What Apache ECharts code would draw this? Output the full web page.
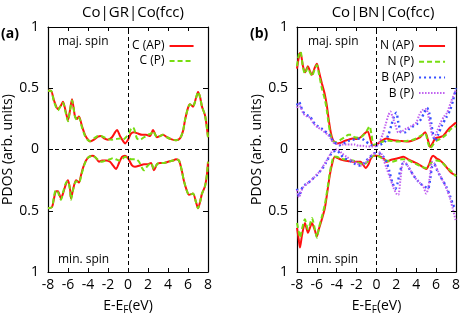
<!DOCTYPE html>
<html><head><meta charset="utf-8">
<script src="https://cdn.jsdelivr.net/npm/echarts@6/dist/echarts.min.js"></script>
<style>html,body{margin:0;padding:0;background:#fff}#c{width:463px;height:320px}</style>
</head><body><div id="c"></div>
<script>
// ---------- Data: [energy (eV), PDOS] ----------
const xTicks = [-8, -6, -4, -2, 0, 2, 4, 6, 8];
const yTicks = [1, 0.5, 0, 0.5, 1];
const panelTitles = ['Co|GR|Co(fcc)', 'Co|BN|Co(fcc)'];
const legendA = ['C (AP)', 'C (P)'];
const legendB = ['N (AP)', 'N (P)', 'B (AP)', 'B (P)'];

// panel (a) majority spin
const cAP_maj = [[-8,0.48],[-7.7,0.48],[-7.4,0.40],[-7.0,0.33],[-6.7,0.36],[-6.5,0.39],[-6.2,0.30],[-6.0,0.24],[-5.8,0.32],[-5.6,0.41],[-5.3,0.27],[-5.1,0.25],[-4.9,0.27],[-4.6,0.19],[-4.3,0.12],[-4.0,0.08],[-3.8,0.065],[-3.4,0.08],[-3.0,0.105],[-2.7,0.11],[-2.4,0.09],[-2.0,0.08],[-1.6,0.10],[-1.3,0.14],[-1.1,0.16],[-0.8,0.11],[-0.5,0.07],[-0.3,0.05],[0,0.08],[0.3,0.13],[0.6,0.14],[1.0,0.13],[1.4,0.12],[1.8,0.12],[2.2,0.11],[2.5,0.16],[2.9,0.10],[3.2,0.11],[3.5,0.12],[3.9,0.10],[4.3,0.085],[4.8,0.075],[5.2,0.09],[5.5,0.15],[5.7,0.24],[6.0,0.34],[6.2,0.37],[6.5,0.35],[6.8,0.42],[7.0,0.47],[7.2,0.43],[7.4,0.35],[7.7,0.28],[7.9,0.17],[8,0.1]];
const cP_maj = [[-8,0.48],[-7.7,0.48],[-7.4,0.39],[-7.0,0.32],[-6.7,0.36],[-6.5,0.38],[-6.2,0.29],[-6.0,0.23],[-5.8,0.32],[-5.6,0.40],[-5.3,0.27],[-5.1,0.24],[-4.9,0.26],[-4.6,0.18],[-4.3,0.11],[-4.0,0.075],[-3.8,0.07],[-3.4,0.09],[-3.0,0.11],[-2.7,0.11],[-2.4,0.10],[-2.0,0.085],[-1.6,0.08],[-1.2,0.085],[-0.8,0.09],[-0.5,0.08],[-0.2,0.10],[0.1,0.13],[0.4,0.18],[0.6,0.17],[0.9,0.09],[1.2,0.08],[1.6,0.10],[2.0,0.12],[2.3,0.13],[2.5,0.15],[2.9,0.10],[3.2,0.11],[3.5,0.12],[3.9,0.10],[4.3,0.085],[4.8,0.075],[5.2,0.09],[5.5,0.15],[5.7,0.24],[6.0,0.34],[6.2,0.37],[6.5,0.35],[6.8,0.42],[7.0,0.47],[7.2,0.43],[7.4,0.35],[7.7,0.28],[7.9,0.17],[8,0.1]];
// panel (a) minority spin (plotted downward)
const cAP_min = [[-8,0.48],[-7.6,0.47],[-7.4,0.40],[-7.2,0.34],[-7.0,0.34],[-6.7,0.40],[-6.5,0.36],[-6.2,0.28],[-6.0,0.25],[-5.8,0.32],[-5.7,0.40],[-5.5,0.33],[-5.2,0.25],[-4.9,0.27],[-4.7,0.21],[-4.5,0.15],[-4.2,0.09],[-3.9,0.06],[-3.5,0.05],[-3.2,0.07],[-2.9,0.10],[-2.6,0.09],[-2.2,0.09],[-1.8,0.10],[-1.5,0.13],[-1.2,0.16],[-0.9,0.11],[-0.6,0.06],[-0.3,0.05],[0,0.07],[0.4,0.13],[0.7,0.14],[1.2,0.13],[1.6,0.12],[2.0,0.12],[2.3,0.11],[2.6,0.17],[2.9,0.12],[3.2,0.11],[3.6,0.11],[4.0,0.10],[4.5,0.09],[4.8,0.08],[5.1,0.09],[5.4,0.18],[5.6,0.26],[5.9,0.34],[6.1,0.37],[6.5,0.36],[6.8,0.43],[7.0,0.48],[7.2,0.43],[7.4,0.36],[7.7,0.30],[7.9,0.2],[8,0.1]];
const cP_min = [[-8,0.48],[-7.6,0.47],[-7.4,0.38],[-7.2,0.33],[-7.0,0.35],[-6.7,0.41],[-6.5,0.35],[-6.2,0.27],[-6.0,0.26],[-5.8,0.33],[-5.7,0.41],[-5.5,0.33],[-5.2,0.26],[-4.9,0.27],[-4.7,0.22],[-4.5,0.16],[-4.2,0.09],[-3.9,0.06],[-3.5,0.05],[-3.2,0.07],[-2.9,0.09],[-2.6,0.10],[-2.2,0.09],[-1.8,0.08],[-1.5,0.07],[-1.2,0.08],[-0.9,0.09],[-0.6,0.08],[-0.3,0.06],[0,0.07],[0.4,0.08],[0.8,0.08],[1.1,0.10],[1.4,0.15],[1.6,0.17],[1.8,0.15],[2.0,0.13],[2.3,0.11],[2.6,0.16],[2.9,0.12],[3.2,0.11],[3.6,0.11],[4.0,0.10],[4.5,0.09],[4.8,0.08],[5.1,0.09],[5.4,0.18],[5.6,0.26],[5.9,0.34],[6.1,0.37],[6.5,0.36],[6.8,0.43],[7.0,0.48],[7.2,0.43],[7.4,0.36],[7.7,0.30],[7.9,0.2],[8,0.1]];

// panel (b) majority spin
const nAP_maj = [[-8,0.66],[-7.8,0.76],[-7.65,0.79],[-7.4,0.68],[-7.2,0.63],[-6.9,0.68],[-6.7,0.64],[-6.5,0.61],[-6.2,0.67],[-6.0,0.70],[-5.8,0.64],[-5.5,0.54],[-5.2,0.45],[-5.0,0.36],[-4.8,0.24],[-4.6,0.14],[-4.4,0.08],[-4.2,0.06],[-4.0,0.05],[-3.6,0.055],[-3.2,0.07],[-2.8,0.08],[-2.4,0.09],[-2.0,0.085],[-1.6,0.10],[-1.2,0.13],[-0.9,0.15],[-0.6,0.08],[-0.4,0.035],[0,0.04],[0.5,0.07],[1.0,0.09],[1.4,0.08],[1.7,0.075],[2.3,0.07],[3.0,0.065],[3.5,0.07],[4.0,0.085],[4.4,0.10],[4.9,0.14],[5.2,0.07],[5.4,0.02],[5.7,0.06],[5.9,0.09],[6.3,0.10],[6.7,0.11],[7.0,0.14],[7.4,0.18],[7.7,0.20],[8,0.22]];
const nP_maj = [[-8,0.68],[-7.8,0.78],[-7.65,0.80],[-7.4,0.67],[-7.2,0.62],[-6.9,0.67],[-6.7,0.63],[-6.5,0.60],[-6.2,0.66],[-6.0,0.69],[-5.8,0.62],[-5.5,0.50],[-5.2,0.41],[-5.0,0.32],[-4.8,0.20],[-4.6,0.11],[-4.4,0.07],[-4.2,0.06],[-4.0,0.06],[-3.6,0.08],[-3.2,0.10],[-2.8,0.12],[-2.5,0.12],[-2.2,0.10],[-1.8,0.095],[-1.4,0.11],[-1.0,0.15],[-0.7,0.19],[-0.5,0.12],[-0.3,0.04],[0,0.04],[0.5,0.06],[1.0,0.075],[1.5,0.07],[2.0,0.065],[2.5,0.065],[3.0,0.07],[3.5,0.075],[4.0,0.09],[4.4,0.11],[4.9,0.13],[5.2,0.05],[5.4,0.01],[5.7,0.04],[6.0,0.07],[6.5,0.09],[7.0,0.12],[7.4,0.16],[7.7,0.18],[8,0.19]];
const bAP_maj = [[-8,0.36],[-7.8,0.39],[-7.6,0.35],[-7.4,0.31],[-7.2,0.29],[-7.0,0.28],[-6.7,0.27],[-6.4,0.23],[-6.2,0.21],[-5.9,0.19],[-5.5,0.17],[-5.2,0.15],[-4.9,0.13],[-4.6,0.10],[-4.4,0.07],[-4.0,0.045],[-3.7,0.035],[-3.3,0.05],[-3.0,0.06],[-2.7,0.075],[-2.4,0.08],[-2.0,0.085],[-1.6,0.09],[-1.3,0.08],[-1.1,0.065],[-0.8,0.05],[-0.5,0.035],[0,0.03],[0.4,0.04],[0.8,0.06],[1.2,0.12],[1.5,0.2],[1.8,0.28],[2.0,0.30],[2.2,0.22],[2.5,0.14],[2.9,0.14],[3.3,0.17],[3.7,0.19],[4.1,0.21],[4.5,0.25],[4.8,0.30],[5.1,0.34],[5.3,0.30],[5.5,0.22],[5.7,0.12],[5.9,0.07],[6.2,0.12],[6.6,0.2],[7.0,0.26],[7.4,0.32],[7.7,0.40],[8,0.50]];
const bP_maj = [[-8,0.34],[-7.8,0.37],[-7.6,0.34],[-7.4,0.30],[-7.2,0.28],[-7.0,0.27],[-6.7,0.26],[-6.4,0.22],[-6.2,0.20],[-5.9,0.18],[-5.5,0.16],[-5.2,0.14],[-4.9,0.12],[-4.6,0.09],[-4.4,0.06],[-4.0,0.045],[-3.7,0.04],[-3.3,0.04],[-3.0,0.04],[-2.6,0.04],[-2.2,0.04],[-1.8,0.03],[-1.4,0.03],[-1.0,0.025],[-0.5,0.025],[0,0.03],[0.3,0.06],[0.6,0.12],[0.9,0.20],[1.2,0.28],[1.4,0.31],[1.6,0.27],[1.9,0.20],[2.2,0.14],[2.6,0.15],[3.0,0.17],[3.5,0.19],[4.0,0.22],[4.3,0.28],[4.6,0.32],[5.0,0.33],[5.2,0.28],[5.4,0.20],[5.6,0.12],[5.8,0.10],[6.1,0.15],[6.4,0.21],[6.8,0.27],[7.1,0.30],[7.5,0.39],[7.8,0.45],[8,0.49]];
// panel (b) minority spin (plotted downward)
const nAP_min = [[-8,0.64],[-7.8,0.75],[-7.7,0.80],[-7.5,0.70],[-7.2,0.60],[-6.9,0.68],[-6.7,0.64],[-6.5,0.60],[-6.2,0.66],[-6.0,0.71],[-5.8,0.65],[-5.5,0.57],[-5.2,0.48],[-4.9,0.32],[-4.7,0.21],[-4.5,0.13],[-4.2,0.06],[-3.9,0.07],[-3.5,0.085],[-3.2,0.09],[-2.8,0.095],[-2.4,0.10],[-2.0,0.10],[-1.6,0.10],[-1.3,0.13],[-1.1,0.15],[-0.8,0.12],[-0.6,0.08],[-0.3,0.05],[0,0.05],[0.45,0.06],[0.8,0.08],[1.0,0.10],[1.3,0.09],[1.7,0.08],[2.2,0.07],[2.7,0.06],[3.2,0.08],[3.7,0.10],[4.2,0.12],[4.6,0.14],[5.0,0.16],[5.3,0.12],[5.5,0.07],[5.7,0.05],[6.0,0.07],[6.4,0.09],[6.8,0.12],[7.1,0.15],[7.4,0.18],[7.7,0.20],[8,0.21]];
const nP_min = [[-8,0.60],[-7.8,0.68],[-7.7,0.72],[-7.5,0.65],[-7.2,0.57],[-6.9,0.65],[-6.7,0.61],[-6.5,0.56],[-6.2,0.65],[-6.0,0.72],[-5.8,0.64],[-5.5,0.55],[-5.2,0.45],[-4.9,0.30],[-4.7,0.19],[-4.5,0.11],[-4.3,0.06],[-4.0,0.06],[-3.6,0.075],[-3.2,0.08],[-2.8,0.085],[-2.4,0.09],[-2.0,0.10],[-1.6,0.115],[-1.2,0.12],[-0.9,0.10],[-0.6,0.07],[-0.3,0.05],[0,0.05],[0.5,0.07],[1.0,0.09],[1.5,0.10],[2.0,0.09],[2.5,0.08],[3.0,0.08],[3.5,0.10],[4.0,0.12],[4.5,0.14],[5.0,0.15],[5.3,0.13],[5.6,0.10],[6.0,0.09],[6.5,0.10],[7.0,0.14],[7.4,0.17],[7.7,0.19],[8,0.22]];
const bAP_min = [[-8,0.32],[-7.8,0.38],[-7.6,0.34],[-7.4,0.30],[-7.0,0.28],[-6.7,0.26],[-6.3,0.23],[-6.0,0.21],[-5.7,0.18],[-5.4,0.15],[-5.1,0.11],[-4.9,0.08],[-4.6,0.04],[-4.4,0.02],[-4.0,0.01],[-3.7,0.03],[-3.4,0.06],[-3.0,0.08],[-2.5,0.10],[-2.1,0.12],[-1.7,0.13],[-1.4,0.12],[-1.1,0.10],[-0.8,0.07],[-0.5,0.05],[-0.2,0.03],[0.2,0.03],[0.6,0.05],[1.0,0.10],[1.3,0.18],[1.6,0.27],[1.9,0.32],[2.1,0.28],[2.4,0.17],[2.7,0.11],[3.0,0.12],[3.4,0.17],[3.8,0.22],[4.2,0.26],[4.6,0.29],[5.0,0.31],[5.2,0.32],[5.4,0.24],[5.6,0.14],[5.8,0.12],[6.1,0.17],[6.5,0.23],[7.0,0.30],[7.4,0.38],[7.7,0.45],[8,0.49]];
const bP_min = [[-8,0.33],[-7.8,0.39],[-7.6,0.35],[-7.4,0.31],[-7.0,0.28],[-6.7,0.26],[-6.3,0.23],[-6.0,0.20],[-5.7,0.18],[-5.4,0.14],[-5.1,0.10],[-4.8,0.06],[-4.5,0.02],[-4.2,0.0],[-3.9,0.0],[-3.5,0.03],[-3.0,0.06],[-2.5,0.09],[-2.0,0.11],[-1.6,0.13],[-1.3,0.12],[-1.0,0.10],[-0.7,0.07],[-0.4,0.04],[0,0.02],[0.45,0.03],[0.7,0.08],[1.0,0.15],[1.4,0.24],[1.7,0.31],[2.0,0.36],[2.2,0.37],[2.4,0.25],[2.6,0.12],[2.8,0.10],[3.2,0.14],[3.7,0.21],[4.2,0.26],[4.7,0.30],[5.0,0.36],[5.2,0.32],[5.4,0.20],[5.6,0.10],[5.8,0.11],[6.2,0.18],[6.7,0.26],[7.1,0.33],[7.4,0.40],[7.7,0.49],[8,0.59]];

// ---------- Chart ----------
const FONT = 'Open Sans';
const down = a => a.map(p => [p[0], -p[1]]);
const col = {red: '#ff1010', green: '#77dd11', blue: '#3850ff', mag: '#c060f0'};
const styles = {
  AP: {color: col.red, type: 'solid', width: 2},
  P: {color: col.green, type: [5, 3], width: 2},
  BAP: {color: col.blue, type: [2, 3], width: 2.4},
  BP: {color: col.mag, type: [1.5, 1.5], width: 2}
};
function mk(name, data, st, ax, withMark) {
  const s = {
    name, type: 'line', data, xAxisIndex: ax, yAxisIndex: ax,
    showSymbol: false, symbol: 'none', smooth: 0.25,
    lineStyle: {color: st.color, type: st.type, width: st.width},
    itemStyle: {color: st.color}, z: 3
  };
  if (withMark) s.markLine = {
    silent: true, symbol: 'none', label: {show: false},
    lineStyle: {color: '#000', type: [4, 3], width: 1},
    data: [{xAxis: 0}, {yAxis: 0}]
  };
  return s;
}
const ySpan = {min: -1, max: 1, interval: 0.5};
function xAx(grid, pos, labels) {
  return {
    type: 'value', gridIndex: grid, position: pos, min: -8, max: 8, interval: 2,
    axisLine: {show: true, onZero: false, lineStyle: {color: '#000', width: 1.2}},
    axisTick: {show: true, inside: true, length: 4, lineStyle: {color: '#000'}},
    axisLabel: {show: labels, margin: 6, color: '#000', fontSize: 14, fontFamily: FONT,
      formatter: v => xTicks.includes(v) ? String(v) : ''},
    splitLine: {show: false},
    name: labels ? '{n|E-E}{s|F}{n|(eV)}' : '', nameLocation: 'middle', nameGap: 25,
    nameTextStyle: {rich: {
      n: {fontSize: 14, fontFamily: FONT, color: '#000', lineHeight: 18, verticalAlign: 'middle'},
      s: {fontSize: 10, fontFamily: FONT, color: '#000', lineHeight: 18, verticalAlign: 'bottom'}
    }}
  };
}
function yAx(grid, pos, labels, gap) {
  return Object.assign({
    type: 'value', gridIndex: grid, position: pos,
    axisLine: {show: true, onZero: false, lineStyle: {color: '#000', width: 1.2}},
    axisTick: {show: true, inside: true, length: 5, lineStyle: {color: '#000'}},
    axisLabel: {show: labels, margin: 9, color: '#000', fontSize: 14, fontFamily: FONT,
      formatter: v => String(yTicks[Math.round((1 - v) / 0.5)])},
    splitLine: {show: false},
    name: labels ? 'PDOS (arb. units)' : '', nameLocation: 'middle', nameGap: gap,
    nameTextStyle: {fontSize: 14, fontFamily: FONT, color: '#000'}
  }, ySpan);
}
const txt = (x, y, s, size, weight, align) => ({
  type: 'text', x, y, style: {text: s, fill: '#000', font: `${weight || 'normal'} ${size}px "${FONT}"`,
  textAlign: align || 'left', textVerticalAlign: 'middle'}
});
const legendCommon = {orient: 'vertical', align: 'right', itemHeight: 10,
  itemStyle: {opacity: 0}, textStyle: {fontSize: 12, fontFamily: FONT, color: '#000'}};
const option = {
  animation: false,
  backgroundColor: '#fff',
  title: [
    {text: panelTitles[0], left: 128, top: 0, textAlign: 'center', textStyle: {fontSize: 15, fontWeight: 'normal', fontFamily: FONT, color: '#000'}},
    {text: panelTitles[1], left: 378, top: 0, textAlign: 'center', textStyle: {fontSize: 15, fontWeight: 'normal', fontFamily: FONT, color: '#000'}}
  ],
  grid: [
    {left: 48, top: 27, width: 160, height: 247},
    {left: 297, top: 27, width: 161, height: 247}
  ],
  xAxis: [xAx(0, 'bottom', true), xAx(1, 'bottom', true), xAx(0, 'top', false), xAx(1, 'top', false)],
  yAxis: [yAx(0, 'left', true, 31), yAx(1, 'left', true, 31), yAx(0, 'right', false, 0), yAx(1, 'right', false, 0)],
  legend: [
    Object.assign({data: legendA, left: 127, top: 35, itemWidth: 24, itemGap: 3}, legendCommon),
    Object.assign({data: legendB, left: 375, top: 35, itemWidth: 26, itemGap: 3.7}, legendCommon)
  ],
  graphic: [
    txt(1, 34, '(a)', 14, 'bold'),
    txt(250, 34, '(b)', 14, 'bold'),
    txt(58, 42, 'maj. spin', 12),
    txt(58, 260, 'min. spin', 12),
    txt(308, 42, 'maj. spin', 12),
    txt(307, 260, 'min. spin', 12)
  ],
  series: [
    mk('C (AP)', cAP_maj, styles.AP, 0, true),
    mk('C (AP)', down(cAP_min), styles.AP, 0),
    mk('C (P)', cP_maj, styles.P, 0),
    mk('C (P)', down(cP_min), styles.P, 0),
    mk('N (AP)', nAP_maj, styles.AP, 1, true),
    mk('N (AP)', down(nAP_min), styles.AP, 1),
    mk('N (P)', nP_maj, styles.P, 1),
    mk('N (P)', down(nP_min), styles.P, 1),
    mk('B (AP)', bAP_maj, styles.BAP, 1),
    mk('B (AP)', down(bAP_min), styles.BAP, 1),
    mk('B (P)', bP_maj, styles.BP, 1),
    mk('B (P)', down(bP_min), styles.BP, 1)
  ]
};
const chart = echarts.init(document.getElementById('c'), null, {renderer: 'canvas'});
chart.setOption(option);
</script></body></html>
